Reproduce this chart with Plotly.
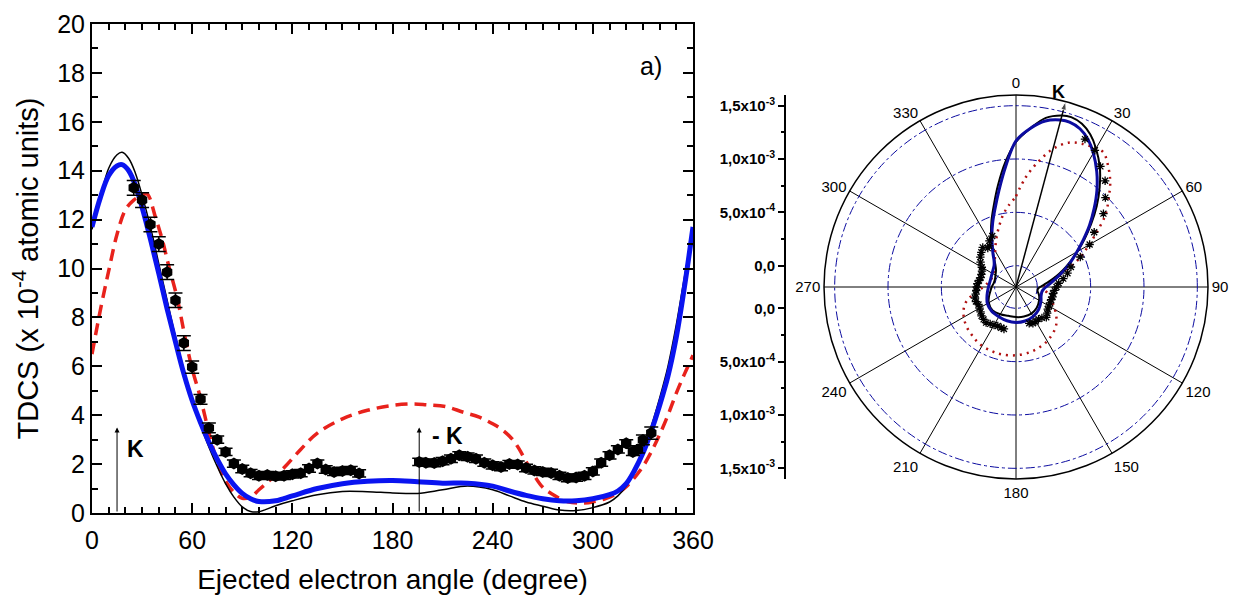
import plotly.graph_objects as go

# ---------------- data (TDCS in units of 1e-4 a.u.) ----------------
ANG_BLUE = [0, 5, 10, 15, 18, 22, 26, 30, 35, 40, 45, 50, 55, 60, 65, 70, 75, 80, 85, 90,
            95, 100, 110, 120, 135, 150, 165, 180, 195, 210, 225, 240, 250, 260, 270, 280,
            290, 300, 310, 315, 320, 325, 330, 335, 340, 345, 350, 355, 360]
TDCS_BLUE = [11.7, 12.9, 13.8, 14.2, 14.25, 14.0, 13.4, 12.5, 11.2, 9.8, 8.35, 7.0, 5.7, 4.6,
             3.7, 2.9, 2.2, 1.6, 1.15, 0.8, 0.58, 0.47, 0.5, 0.7, 1.0, 1.2, 1.3, 1.33, 1.28,
             1.22, 1.22, 1.1, 0.9, 0.72, 0.58, 0.5, 0.5, 0.58, 0.75, 0.9, 1.2, 1.75, 2.45,
             3.35, 4.4, 5.6, 7.2, 9.3, 11.7]

ANG_BLACK = ANG_BLUE
TDCS_BLACK = [11.6, 12.9, 14.1, 14.65, 14.75, 14.5, 13.9, 13.0, 11.7, 10.2, 8.7, 7.2, 5.85, 4.65,
              3.6, 2.7, 1.9, 1.2, 0.65, 0.25, 0.06, 0.05, 0.3, 0.5, 0.75, 0.88, 0.87, 0.82, 0.8,
              0.95, 1.1, 0.95, 0.7, 0.45, 0.28, 0.12, 0.1, 0.22, 0.45, 0.7, 1.1, 1.7, 2.55, 3.55,
              4.7, 6.0, 7.7, 9.7, 11.6]

ANG_RED = [0, 5, 10, 15, 20, 25, 30, 33, 38, 42, 46, 51, 56, 60, 65, 70, 75, 80, 85, 90,
           95, 100, 105, 110, 115, 125, 135, 150, 165, 180, 192, 200, 212, 222, 232, 240, 246,
           252, 256, 260, 264, 270, 275, 285, 295, 300, 308, 315, 320, 325, 330, 335, 340, 345,
           350, 355, 360]
TDCS_RED = [6.5, 8.3, 9.9, 11.4, 12.4, 12.8, 13.0, 13.05, 12.1, 11.2, 10.1, 8.8, 7.1, 5.9, 4.7,
            3.3, 2.1, 1.3, 0.85, 0.6, 0.65, 0.95, 1.25, 1.55, 1.85, 2.6, 3.27, 3.85, 4.2, 4.4,
            4.46, 4.43, 4.35, 4.13, 3.92, 3.65, 3.39, 3.0, 2.6, 2.1, 1.63, 1.05, 0.8, 0.46, 0.41,
            0.45, 0.6, 0.82, 1.08, 1.45, 1.9, 2.5, 3.2, 4.0, 4.9, 5.7, 6.45]

EXP_ANG = [25, 30, 35, 40, 45, 50, 55, 60, 65, 70, 75, 80, 85, 90, 95, 100, 105, 110, 115, 120,
           125, 130, 135, 140, 145, 150, 155, 160,
           196, 200, 205, 210, 215, 220, 225, 230, 235, 240, 245, 250, 255, 260, 265, 270, 275,
           280, 285, 290, 295, 300, 305, 310, 315, 320, 324, 327, 330, 335]
EXP_TDCS = [13.3, 12.8, 11.8, 11.0, 9.85, 8.7, 6.95, 5.97, 4.65, 3.48, 3.0, 2.5, 2.02, 1.8, 1.63,
            1.52, 1.55, 1.5, 1.52, 1.58, 1.63, 1.82, 2.02, 1.78, 1.68, 1.72, 1.75, 1.62,
            2.09, 2.06, 2.04, 2.12, 2.22, 2.36, 2.3, 2.22, 2.06, 1.95, 1.88, 2.0, 1.98, 1.84, 1.74,
            1.68, 1.64, 1.52, 1.43, 1.45, 1.52, 1.7, 2.06, 2.36, 2.6, 2.85, 2.5, 2.6, 2.99, 3.27]
EXP_ERR = [0.3, 0.3, 0.3, 0.3, 0.3, 0.3, 0.3, 0.25, 0.2, 0.2, 0.15, 0.15, 0.15, 0.15, 0.15,
           0.15, 0.15, 0.15, 0.15, 0.15, 0.15, 0.15, 0.15, 0.15, 0.15, 0.15, 0.15, 0.15,
           0.15, 0.15, 0.15, 0.15, 0.15, 0.15, 0.15, 0.15, 0.15, 0.15, 0.15, 0.15, 0.15, 0.15,
           0.15, 0.15, 0.15, 0.15, 0.15, 0.15, 0.15, 0.15, 0.15, 0.15, 0.15, 0.15, 0.15, 0.15,
           0.2, 0.25]

K_ANGLE = 15
MINUS_K_ANGLE = 196
SCALE = 1e-4                      # TDCS unit of the left panel
R_RANGE = [-2e-4, 1.6e-3]         # radial range of the polar panel
R_TICKS = [0, 5e-4, 1e-3, 1.5e-3]
R_TICKTEXT = ["0,0", "5,0x10<sup>-4</sup>", "1,0x10<sup>-3</sup>", "1,5x10<sup>-3</sup>"]
R_MINOR = [2.5e-4, 7.5e-4, 1.25e-3]
X_TICKS = [0, 60, 120, 180, 240, 300, 360]

FONT = "Arial, Liberation Sans, sans-serif"
BLUE = "#0a14f0"
RED = "#e8221c"
NAVY = "#0c0ca0"
DARKRED = "#b01010"

fig = go.Figure()

# ---------------- left cartesian panel ----------------
fig.add_trace(go.Scatter(x=ANG_RED, y=TDCS_RED, mode="lines", line=dict(color=RED, width=3.5, dash="12px,7px", shape="spline"),
                         xaxis="x", yaxis="y"))
fig.add_trace(go.Scatter(x=ANG_BLACK, y=TDCS_BLACK, mode="lines", line=dict(color="black", width=1.5, shape="spline"),
                         xaxis="x", yaxis="y"))
fig.add_trace(go.Scatter(x=ANG_BLUE, y=TDCS_BLUE, mode="lines", line=dict(color=BLUE, width=5, shape="spline"),
                         xaxis="x", yaxis="y"))
fig.add_trace(go.Scatter(x=EXP_ANG, y=EXP_TDCS, mode="markers",
                         marker=dict(symbol="hexagon", size=12, color="black"),
                         error_y=dict(type="data", array=EXP_ERR, color="black", thickness=1.5, width=7),
                         xaxis="x", yaxis="y"))

# ---------------- polar panel ----------------
fig.add_trace(go.Scatterpolar(r=[v * SCALE for v in TDCS_RED], theta=ANG_RED, mode="lines",
                              line=dict(color=DARKRED, width=2.5, dash="2px,5px", shape="spline"), subplot="polar"))
fig.add_trace(go.Scatterpolar(r=[v * SCALE for v in TDCS_BLACK], theta=ANG_BLACK, mode="lines",
                              line=dict(color="black", width=2, shape="spline"), subplot="polar"))
fig.add_trace(go.Scatterpolar(r=[v * SCALE for v in TDCS_BLUE], theta=ANG_BLUE, mode="lines",
                              line=dict(color=NAVY, width=3, shape="spline"), subplot="polar"))
fig.add_trace(go.Scatterpolar(r=[v * SCALE for v in EXP_TDCS], theta=EXP_ANG, mode="markers",
                              marker=dict(symbol="asterisk-open", size=7, color="black", line=dict(color="black", width=1.3)),
                              subplot="polar"))
fig.add_trace(go.Scatterpolar(r=R_RANGE, theta=[K_ANGLE, K_ANGLE], mode="lines+markers",
                              line=dict(color="black", width=1.5),
                              marker=dict(symbol=["circle", "arrow"], size=[0, 9], color="black", angleref="previous"),
                              subplot="polar"))

# helper axes for the radial scale at the left of the polar panel
center_off = -R_RANGE[0]
half = R_RANGE[1] - R_RANGE[0]
major_pos = [v + center_off for v in R_TICKS] + [-(v + center_off) for v in R_TICKS]
major_txt = R_TICKTEXT + R_TICKTEXT
minor_pos = [v + center_off for v in R_MINOR] + [-(v + center_off) for v in R_MINOR]
fig.add_trace(go.Scatter(x=[], y=[], xaxis="x2", yaxis="y2", showlegend=False))
fig.add_trace(go.Scatter(x=[], y=[], xaxis="x2", yaxis="y3", showlegend=False))

# geometry (pixels in the screenshot; the page body adds an 8px offset)
W, H = 1240, 601
OFF = 8
def px(x):
    return (x - OFF) / W
def py(y):
    return (H - (y - OFF)) / H

cx, cy, R = 1016, 287, 192
pol_x = [px(cx - R), px(cx + R)]
pol_y = [py(cy + R), py(cy - R)]

fig.update_layout(
    width=W, height=H, margin=dict(l=0, r=0, t=0, b=0),
    paper_bgcolor="white", plot_bgcolor="white", showlegend=False,
    font=dict(family=FONT, color="black"),
    xaxis=dict(domain=[px(92), px(693)], range=[0, 360], tickvals=X_TICKS,
               ticks="inside", ticklen=10, tickwidth=2, tickcolor="black",
               minor=dict(dtick=10, tick0=0, ticks="inside", ticklen=6, tickwidth=1.5, tickcolor="black", showgrid=False),
               showline=True, linewidth=2, linecolor="black", mirror="ticks",
               showgrid=False, zeroline=False, automargin=False,
               tickfont=dict(size=25, family=FONT), ticklabelstandoff=4,
               title=dict(text="Ejected electron angle (degree)", font=dict(size=28, family=FONT), standoff=16)),
    yaxis=dict(domain=[py(513), py(24)], range=[0, 20], dtick=2, tick0=0,
               ticks="inside", ticklen=10, tickwidth=2, tickcolor="black",
               minor=dict(dtick=1, tick0=0, ticks="inside", ticklen=6, tickwidth=1.5, tickcolor="black", showgrid=False),
               showline=True, linewidth=2, linecolor="black", mirror="ticks",
               showgrid=False, zeroline=False, automargin=False,
               tickfont=dict(size=25, family=FONT),
               title=dict(text="TDCS (x 10<sup>-4</sup> atomic units)", font=dict(size=29, family=FONT), standoff=12)),
    xaxis2=dict(domain=[px(786), px(790)], visible=False, range=[0, 1], anchor="y2"),
    yaxis2=dict(domain=pol_y, anchor="x2", range=[-half, half], tickvals=major_pos, ticktext=major_txt,
                ticks="outside", ticklen=6, tickwidth=1.5, tickcolor="black",
                showline=True, linewidth=2, linecolor="black", showgrid=False, zeroline=False,
                automargin=False, tickfont=dict(size=15, family=FONT, weight="bold")),
    yaxis3=dict(domain=pol_y, anchor="x2", overlaying="y2", range=[-half, half], tickvals=minor_pos,
                ticks="outside", ticklen=4, tickwidth=1.5, tickcolor="black", showticklabels=False,
                showline=False, showgrid=False, zeroline=False, automargin=False),
    polar=dict(
        domain=dict(x=pol_x, y=pol_y), bgcolor="white",
        angularaxis=dict(rotation=90, direction="clockwise", tickvals=list(range(0, 360, 30)),
                         showgrid=True, gridcolor="black", gridwidth=1,
                         showline=True, linecolor="black", linewidth=1.5, ticks="",
                         tickfont=dict(size=15, family=FONT, color="black")),
        radialaxis=dict(range=R_RANGE, tickvals=R_TICKS, showticklabels=False, ticks="",
                        showline=False, showgrid=True, gridcolor=NAVY, gridwidth=1, griddash="dashdot"),
    ),
)

# annotations on the left panel
fig.add_annotation(x=K_ANGLE, y=3.5, ax=K_ANGLE, ay=0, xref="x", yref="y", axref="x", ayref="y",
                   text="", showarrow=True, arrowhead=2, arrowsize=1, arrowwidth=1, arrowcolor="black")
fig.add_annotation(x=26, y=2.6, xref="x", yref="y", text="<b>K</b>", showarrow=False,
                   font=dict(size=23, family=FONT))
fig.add_annotation(x=MINUS_K_ANGLE, y=3.5, ax=MINUS_K_ANGLE, ay=0, xref="x", yref="y", axref="x", ayref="y",
                   text="", showarrow=True, arrowhead=2, arrowsize=1, arrowwidth=1, arrowcolor="black")
fig.add_annotation(x=213, y=3.15, xref="x", yref="y", text="<b>- K</b>", showarrow=False,
                   font=dict(size=23, family=FONT))
fig.add_annotation(x=335, y=18.3, xref="x", yref="y", text="a)", showarrow=False,
                   font=dict(size=25, family=FONT))
# K label on polar panel
fig.add_annotation(x=px(1067), y=py(80), xref="paper", yref="paper", text="<b>K</b>", showarrow=False,
                   font=dict(size=18, family=FONT))

fig.write_html("out.html")
